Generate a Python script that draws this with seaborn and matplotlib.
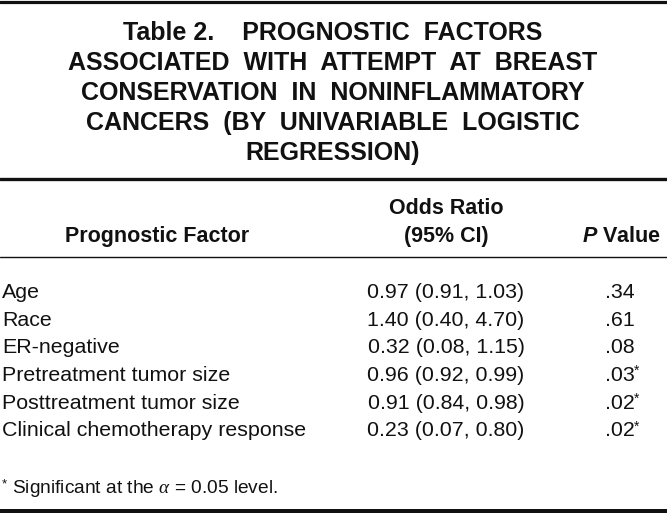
import numpy as np
import pandas as pd
import matplotlib
matplotlib.use("Agg")
import matplotlib.pyplot as plt
import seaborn as sns

# Table contents
title_lines = [
    "Table 2.    PROGNOSTIC  FACTORS",
    "ASSOCIATED  WITH  ATTEMPT  AT  BREAST",
    "CONSERVATION  IN  NONINFLAMMATORY",
    "CANCERS  (BY  UNIVARIABLE  LOGISTIC",
    "REGRESSION)",
]
factors = ["Age", "Race", "ER-negative", "Pretreatment tumor size",
           "Posttreatment tumor size", "Clinical chemotherapy response"]
odds_ratio = ["0.97 (0.91, 1.03)", "1.40 (0.40, 4.70)", "0.32 (0.08, 1.15)",
              "0.96 (0.92, 0.99)", "0.91 (0.84, 0.98)", "0.23 (0.07, 0.80)"]
p_values = [".34", ".61", ".08", ".03", ".02", ".02"]
significant = [False, False, False, True, True, True]

df = pd.DataFrame({"factor": factors, "or": odds_ratio, "p": p_values, "sig": significant})

sns.set_theme(style="white")
plt.rcParams["font.family"] = ["Liberation Sans", "DejaVu Sans"]
plt.rcParams["mathtext.fontset"] = "custom"
plt.rcParams["mathtext.it"] = "Liberation Serif:italic"
plt.rcParams["mathtext.bfit"] = "Liberation Sans:italic:bold"

W, H = 667, 513
fig = plt.figure(figsize=(W / 100, H / 100), dpi=100)
ax = fig.add_axes([0, 0, 1, 1])
ax.set_xlim(0, W)
ax.set_ylim(H, 0)
ax.axis("off")
ink = "#111111"
body_fs = 15.4
head_fs = 15.5

# rules
ax.axhline(1.5, color=ink, lw=2.3)
ax.axhline(179, color=ink, lw=2.4)
ax.axhline(257, color=ink, lw=1.0)
ax.axhline(510.5, color=ink, lw=3.6)

# title
for i, line in enumerate(title_lines):
    ax.text(333, 40 + i * 30, line, ha="center", va="baseline",
            fontsize=18, fontweight="bold", color=ink)

# header
ax.text(157, 242, "Prognostic Factor", ha="center", va="baseline",
        fontsize=head_fs, fontweight="bold", color=ink)
ax.text(446, 214, "Odds Ratio", ha="center", va="baseline",
        fontsize=head_fs, fontweight="bold", color=ink)
ax.text(446, 242, "(95% CI)", ha="center", va="baseline",
        fontsize=head_fs, fontweight="bold", color=ink)
ax.text(621, 242, r"$\bfit{P}$ Value", ha="center", va="baseline",
        fontsize=head_fs, fontweight="bold", color=ink)

# body rows
row_y = 298 + np.arange(len(df)) * 27.7
for y, (_, r) in zip(row_y, df.iterrows()):
    ax.text(2, y, r["factor"], ha="left", va="baseline", fontsize=body_fs, color=ink)
    ax.text(446, y, r["or"], ha="center", va="baseline", fontsize=body_fs, color=ink)
    ax.text(620, y, r["p"], ha="center", va="baseline", fontsize=body_fs, color=ink)
    if r["sig"]:
        ax.text(634, y - 6, "*", ha="left", va="baseline", fontsize=10, color=ink)

# footnote
ax.text(2, 487, "*", ha="left", va="baseline", fontsize=9.5, color=ink)
ax.text(12, 493, r"Significant at the $\alpha$ = 0.05 level.", ha="left",
        va="baseline", fontsize=13.8, color=ink)

fig.savefig("out.png", dpi=100, facecolor="white")
